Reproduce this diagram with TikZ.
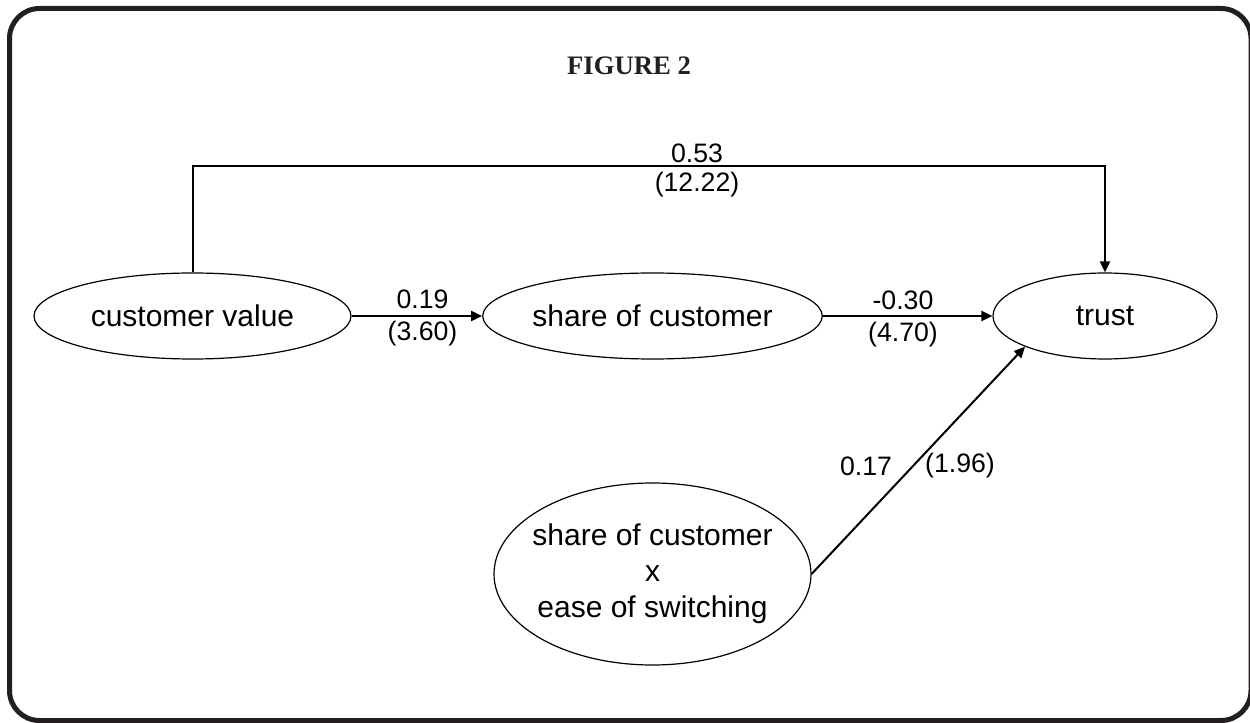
\documentclass[tikz,border=0pt]{standalone}
\usepackage{fontspec}
\setmainfont{Liberation Sans}
\newfontfamily\titlefont{Liberation Serif}
\usetikzlibrary{shapes.geometric,arrows.meta}
\definecolor{ink}{HTML}{231F20}
\begin{document}
\begin{tikzpicture}[x=0.75pt,y=-0.75pt,
  construct/.style={ellipse,draw,line width=0.9pt,inner sep=0pt,
    minimum width=237.75pt,minimum height=64.5pt,
    font=\fontsize{22.5}{27}\selectfont},
  conn/.style={line width=1.5pt,-{Triangle[length=8.25pt,width=7.5pt]}},
  coef/.style={font=\fontsize{20}{24}\selectfont,inner sep=0pt}]
\useasboundingbox (0,0) rectangle (1250,723);
% outer frame
\draw[ink,line width=3.75pt,rounded corners=22.5pt] (9.5,8.5) rectangle (1251,720.5);
% title
\node[font=\titlefont\bfseries\fontsize{20}{24}\selectfont,ink] (title) at (629,66) {FIGURE 2};
% constructs
\node[construct] (cv) at (192.5,316) {customer value};
\node[construct] (soc) at (652.5,316) {share of customer};
\node[construct,minimum width=168pt] (trust) at (1105,316) {trust};
\node[construct,minimum height=136.5pt,align=center] (inter) at (652.5,574)
  {\makebox[0pt]{share of customer}\\x\\\makebox[0pt]{ease of switching}};
% direct path over the top
\coordinate (topline) at (0,166);
\draw[conn] (cv.north) -- (cv.north |- topline) -| (trust.north);
\node[coef] (c53) at (697,153) {0.53};
\node[coef] (t53) at (697,185) {(12.22)};
% mediated path
\draw[conn] (cv.east) -- (soc.west);
\node[coef] (c19) at (422.5,299) {0.19};
\node[coef] (t19) at (422.5,334) {(3.60)};
\draw[conn] (soc.east) -- (trust.west);
\node[coef] (c30) at (903,300) {-0.30};
\node[coef] (t30) at (903,335) {(4.70)};
% interaction path
\draw[conn] (inter.east) -- (trust.201);
\node[coef] (c17) at (866,466) {0.17};
\node[coef] (t17) at (960,466) {(1.96)};
\end{tikzpicture}
\end{document}
